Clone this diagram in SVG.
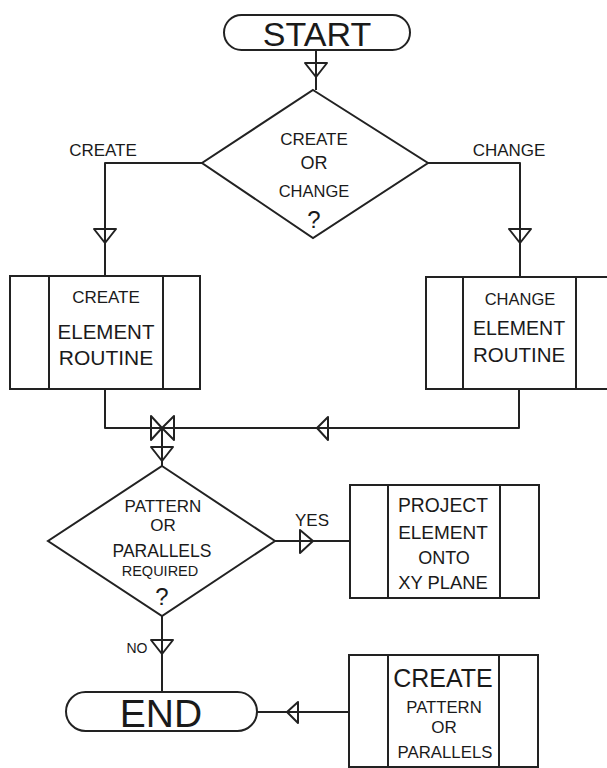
<svg xmlns="http://www.w3.org/2000/svg" width="607" height="768" viewBox="0 0 607 768">
<style>
.s{fill:none;stroke:#222;stroke-width:2;stroke-linejoin:round}
.w{fill:#fff;stroke:#222;stroke-width:2}
.t{font-family:"Liberation Sans",Arial,sans-serif;fill:#1a1a1a;text-anchor:middle}
</style>
<rect width="607" height="768" fill="#fff"/>
<g id="connectors">
<path class="s" d="M316,50 V90"/>
<path class="s" d="M202,163 H105 V276"/>
<path class="s" d="M428,163 H520 V277"/>
<path class="s" d="M105,389 V428 H519 V389"/>
<path class="s" d="M162,428 V466"/>
<path class="s" d="M275,541 H350"/>
<path class="s" d="M162,616 V692"/>
<path class="s" d="M257,712 H349"/>
<polygon class="s" points="305,63 327,63 316,77"/>
<polygon class="s" points="94,229 116,229 105,243"/>
<polygon class="s" points="509,229 531,229 520,243"/>
<polygon class="s" points="151,416 151,440 162,428"/>
<polygon class="s" points="174,416 174,440 162,428"/>
<polygon class="s" points="328,417 328,440 317,428"/>
<polygon class="s" points="151,447 173,447 162,461"/>
<polygon class="s" points="300,530 300,553 313,541"/>
<polygon class="s" points="151,640 173,640 162,654"/>
<polygon class="s" points="298,702 298,723 287,712"/>
</g>
<g id="start">
<rect class="w" x="224" y="15" width="186" height="35" rx="17.5"/>
<text class="t" x="317" y="46" font-size="34">START</text>
</g>
<g id="decision1">
<polygon class="w" points="313,90 428,163 313,238 202,163"/>
<text class="t" x="314" y="145" font-size="17">CREATE</text>
<text class="t" x="314" y="169" font-size="18">OR</text>
<text class="t" x="314" y="197" font-size="16.5">CHANGE</text>
<text class="t" x="314" y="228" font-size="24">?</text>
</g>
<g id="label-create">
<text class="t" x="103" y="156" font-size="17">CREATE</text>
</g>
<g id="label-change">
<text class="t" x="509" y="156" font-size="17">CHANGE</text>
</g>
<g id="create-element">
<rect class="w" x="10" y="276" width="190" height="113"/>
<path class="s" d="M49,276 V389 M163,276 V389"/>
<text class="t" x="106" y="303" font-size="17">CREATE</text>
<text class="t" x="106" y="339" font-size="20.5">ELEMENT</text>
<text class="t" x="106" y="365" font-size="21">ROUTINE</text>
</g>
<g id="change-element">
<rect class="w" x="426" y="277" width="194" height="112"/>
<path class="s" d="M463,277 V389 M576,277 V389"/>
<text class="t" x="520" y="305" font-size="16.5">CHANGE</text>
<text class="t" x="519" y="335" font-size="19.5">ELEMENT</text>
<text class="t" x="519" y="362" font-size="20.5">ROUTINE</text>
</g>
<g id="decision2">
<polygon class="w" points="162,466 275,541 162,616 48,541"/>
<text class="t" x="163" y="512" font-size="17">PATTERN</text>
<text class="t" x="163" y="531" font-size="17">OR</text>
<text class="t" x="162" y="557" font-size="17.5">PARALLELS</text>
<text class="t" x="160" y="576" font-size="14.5">REQUIRED</text>
<text class="t" x="162" y="605" font-size="24">?</text>
</g>
<g id="label-yes">
<text class="t" x="312" y="526" font-size="17">YES</text>
</g>
<g id="label-no">
<text class="t" x="137" y="653" font-size="14">NO</text>
</g>
<g id="project-element">
<rect class="w" x="350" y="485" width="189" height="113"/>
<path class="s" d="M388,485 V598 M500,485 V598"/>
<text class="t" x="443" y="512" font-size="19.3">PROJECT</text>
<text class="t" x="443" y="539" font-size="19">ELEMENT</text>
<text class="t" x="444" y="564" font-size="18">ONTO</text>
<text class="t" x="443" y="589" font-size="18.4">XY PLANE</text>
</g>
<g id="end">
<rect class="w" x="66" y="692" width="191" height="39" rx="19.5"/>
<text class="t" x="161" y="727" font-size="39">END</text>
</g>
<g id="create-pattern">
<rect class="w" x="349" y="655" width="189" height="112"/>
<path class="s" d="M388,655 V767 M499,655 V767"/>
<text class="t" x="443" y="687" font-size="25">CREATE</text>
<text class="t" x="444" y="713" font-size="16.7">PATTERN</text>
<text class="t" x="444" y="733" font-size="17">OR</text>
<text class="t" x="445" y="758" font-size="16.8">PARALLELS</text>
</g>
</svg>
